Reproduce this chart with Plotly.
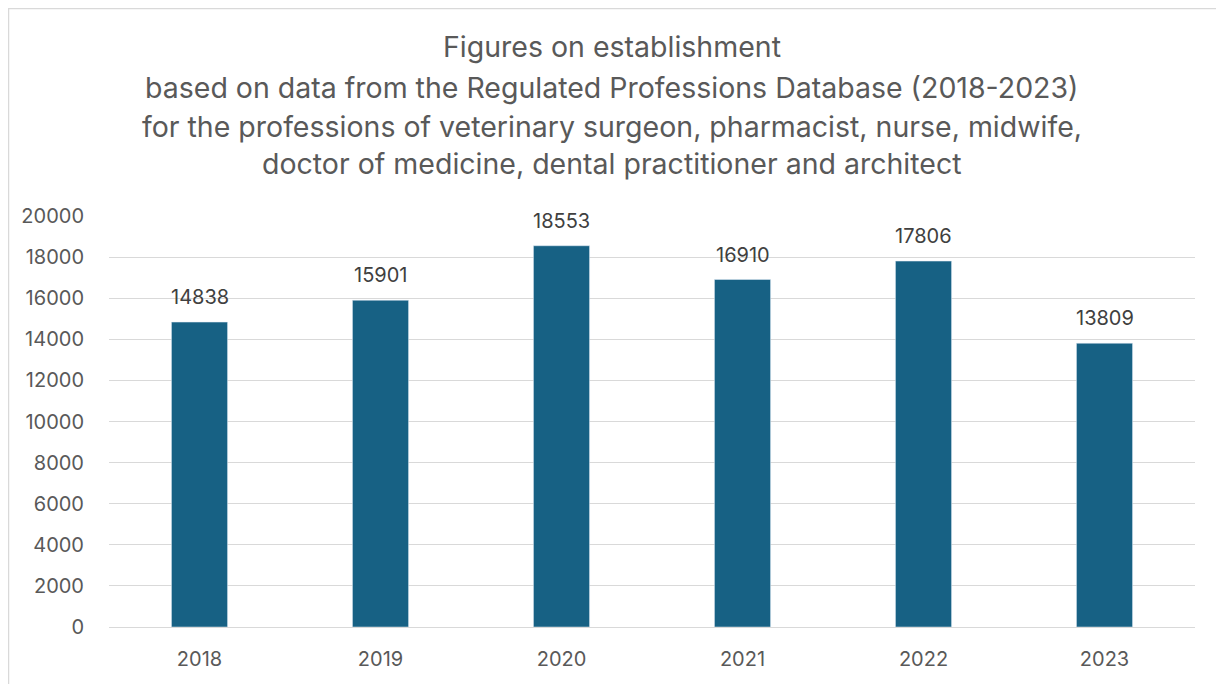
import plotly.graph_objects as go

years = ["2018", "2019", "2020", "2021", "2022", "2023"]
values = [14838, 15901, 18553, 16910, 17806, 13809]
title_lines = [
    "Figures on establishment",
    "based on data from the Regulated Professions Database (2018-2023)",
    "for the professions of veterinary surgeon, pharmacist, nurse, midwife,",
    "doctor of medicine, dental practitioner and architect",
]
y_ticks = list(range(0, 20001, 2000))

# page body has an 8px margin; figure is sized/shifted to compensate
OFF = 8
W, H = 1224 - OFF, 684 - OFF
L, R, T, B = 109 - OFF, 29, 216 - OFF, 57
ph = H - T - B
pw = W - L - R

def py(target_px):
    return (H - B - (target_px - OFF)) / ph

def pxx(target_px):
    return ((target_px - OFF) - L) / pw

FONT = "Inter, Open Sans, sans-serif"

fig = go.Figure(go.Bar(
    x=years, y=values, marker_color="#176184", width=0.31,
))

annotations = []
for line, ypx in zip(title_lines, [47, 88, 127, 163]):
    annotations.append(dict(
        text=line, x=0.5 * (pxx(0) + pxx(1224)), xref="paper", y=py(ypx), yref="paper",
        showarrow=False, xanchor="center", yanchor="middle",
        font=dict(size=28.5, color="#595959", family=FONT),
    ))
for i, v in enumerate(values):
    annotations.append(dict(
        text=str(v), x=i, y=v, xref="x", yref="y", showarrow=False,
        xanchor="center", yanchor="bottom", yshift=11,
        font=dict(size=20, color="#404040", family=FONT),
    ))

fig.update_layout(
    width=W, height=H,
    margin=dict(l=L, r=R, t=T, b=B),
    plot_bgcolor="white", paper_bgcolor="white",
    showlegend=False,
    annotations=annotations,
    font=dict(family=FONT, color="#595959", size=20),
    shapes=[dict(type="rect", xref="paper", yref="paper",
                 x0=pxx(OFF + 0.5), x1=pxx(1218.5), y0=py(700), y1=py(OFF + 0.5),
                 line=dict(color="#d9d9d9", width=1.5), fillcolor="rgba(0,0,0,0)",
                 layer="below")],
)
fig.update_yaxes(range=[0, 20000], tickvals=y_ticks, ticktext=[str(v) for v in y_ticks],
                 showgrid=True, gridcolor="#d9d9d9", gridwidth=1.3, zeroline=False,
                 showline=False, ticks="", ticklabelstandoff=24,
                 tickfont=dict(size=20, color="#595959"))
fig.update_xaxes(type="category", range=[-0.5, len(years) - 0.5], showline=True,
                 linecolor="#d9d9d9", linewidth=1.3, ticks="",
                 tickfont=dict(size=20, color="#595959"), ticklabelstandoff=14)

fig.write_html("out.html")
